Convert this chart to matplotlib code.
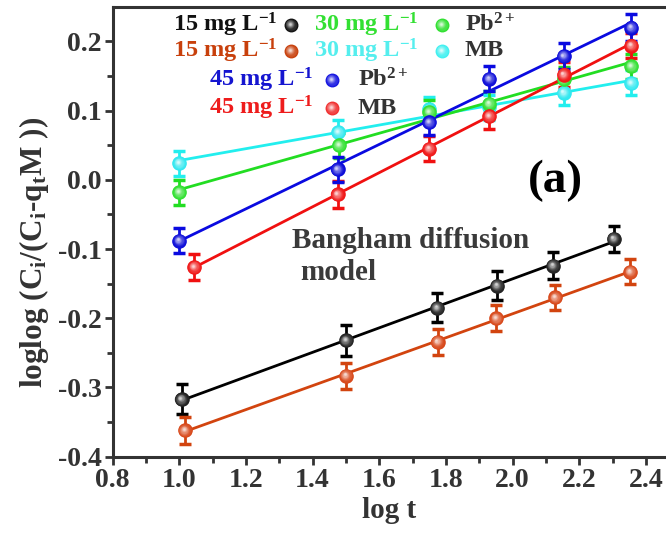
import numpy as np
import matplotlib
matplotlib.use('Agg')
import matplotlib.pyplot as plt
from matplotlib.colors import to_rgb
from matplotlib.transforms import offset_copy

plt.rcParams['font.family'] = 'Liberation Serif'
plt.rcParams['font.weight'] = 'bold'
plt.rcParams['axes.labelweight'] = 'bold'
plt.rcParams['mathtext.fontset'] = 'custom'
plt.rcParams['mathtext.rm'] = 'Liberation Serif:bold'
plt.rcParams['mathtext.it'] = 'Liberation Serif:bold'
plt.rcParams['mathtext.bf'] = 'Liberation Serif:bold'

# data (log t vs loglog(Ci/(Ci-qtM)))
lt_15pb = [1.007, 1.50, 1.773, 1.953, 2.121, 2.303]
y_15pb = [-0.317, -0.232, -0.185, -0.153, -0.124, -0.085]
e_15pb = [0.022, 0.022, 0.021, 0.021, 0.019, 0.019]

lt_15mb = [1.017, 1.50, 1.775, 1.951, 2.128, 2.353]
y_15mb = [-0.362, -0.283, -0.234, -0.200, -0.170, -0.133]
e_15mb = [0.019, 0.019, 0.019, 0.019, 0.018, 0.018]

lt_30pb = [1.0, 1.479, 1.75, 1.93, 2.153, 2.356]
y_30pb = [-0.018, 0.050, 0.098, 0.110, 0.145, 0.164]
e_30pb = [0.018, 0.018, 0.018, 0.018, 0.018, 0.018]

lt_30mb = [1.0, 1.477, 1.75, 1.93, 2.153, 2.356]
y_30mb = [0.024, 0.069, 0.102, 0.105, 0.126, 0.140]
e_30mb = [0.018, 0.018, 0.018, 0.018, 0.018, 0.018]

lt_45pb = [1.0, 1.475, 1.75, 1.93, 2.153, 2.356]
y_45pb = [-0.088, 0.015, 0.083, 0.146, 0.179, 0.220]
e_45pb = [0.018, 0.018, 0.018, 0.018, 0.019, 0.019]

lt_45mb = [1.045, 1.475, 1.75, 1.93, 2.153, 2.356]
y_45mb = [-0.126, -0.021, 0.045, 0.092, 0.152, 0.194]
e_45mb = [0.019, 0.019, 0.018, 0.018, 0.018, 0.018]

series = [
    (lt_15pb, y_15pb, e_15pb, '#000000', '#222222'),
    (lt_15mb, y_15mb, e_15mb, '#d2440f', '#d8481a'),
    (lt_30mb, y_30mb, e_30mb, '#22eeee', '#30e8f0'),
    (lt_30pb, y_30pb, e_30pb, '#22dd22', '#30e030'),
    (lt_45mb, y_45mb, e_45mb, '#f01010', '#f01818'),
    (lt_45pb, y_45pb, e_45pb, '#0a0ae0', '#0c0cd8'),
]

GRAY = '#333333'


def mix(c, w, f):
    a = np.array(to_rgb(c))
    b = np.array(to_rgb(w))
    return tuple(a * (1 - f) + b * f)


def ball(ax, x, y, color, ms=10.5, transform=None, z=5):
    """shaded sphere: solid disc plus a soft highlight shifted up-left"""
    tr = ax.transData if transform is None else transform
    kw = dict(linestyle='none', marker='o', markeredgewidth=0, zorder=z, clip_on=False)
    ax.plot(x, y, markersize=ms, color=color, transform=tr, **kw)
    n = 10
    for k in range(1, n + 1):
        f = k / n
        s = ms * (1.0 - 0.85 * f)
        off = 1.0 * f
        t2 = offset_copy(tr, fig=ax.figure, x=-off, y=off, units='points')
        ax.plot(x, y, markersize=s, color=mix(color, '#ffffff', 0.8 * f ** 1.6),
                transform=t2, **kw)


fig = plt.figure(figsize=(6.66, 5.35), dpi=100)
ax = fig.add_axes([0.169, 0.1464, 0.831, 0.8409])

for lt, yy, ee, lc, mc in series:
    k, b = np.polyfit(lt, yy, 1)
    xf = np.array([lt[0], lt[-1]])
    ax.plot(xf, k * xf + b, color=lc, lw=2.0, zorder=2)
    ax.errorbar(lt, yy, yerr=ee, fmt='none', ecolor=lc, elinewidth=2,
                capsize=4.5, capthick=2.5, zorder=3)
    ball(ax, lt, yy, mc)

ax.set_xlim(0.8, 2.46)
ax.set_ylim(-0.4, 0.25)
ax.set_xticks(np.arange(0.8, 2.41, 0.2))
ax.set_yticks(np.arange(-0.4, 0.21, 0.1))
ax.set_xticks(np.arange(0.8, 2.46, 0.1), minor=True)
ax.set_yticks(np.arange(-0.4, 0.25, 0.05), minor=True)
ax.set_xticklabels(['%.1f' % v for v in np.arange(0.8, 2.41, 0.2)])
ax.set_yticklabels(['%.1f' % v if abs(v) > 1e-9 else '0.0' for v in np.arange(-0.4, 0.21, 0.1)])
ax.tick_params(which='major', direction='out', length=6, width=2, color=GRAY,
               labelsize=20, labelcolor=GRAY, pad=2)
ax.tick_params(which='minor', direction='out', length=4, width=2, color=GRAY)
ax.tick_params(top=False, right=False)
for s in ['left', 'bottom', 'top']:
    ax.spines[s].set_linewidth(2.2)
    ax.spines[s].set_color(GRAY)
ax.spines['right'].set_visible(False)

ax.set_xlabel('log t', fontsize=21, color=GRAY, labelpad=3, fontweight='bold')
ax.set_ylabel(r'loglog (C$_\mathrm{i}$/(C$_\mathrm{i}$-q$_\mathrm{t}$M ))',
              fontsize=22.5, color=GRAY, fontweight='bold')
ax.yaxis.set_label_coords(-0.112, 0.455)

# annotations
fig.text(555 / 666, 1 - 181 / 535, '(a)', fontsize=34, color='black',
         ha='center', va='center')
fig.text(292 / 666, 1 - 240 / 535, 'Bangham diffusion', fontsize=21, color='#3a3a3a',
         ha='left', va='center')
fig.text(300 / 666, 1 - 272 / 535, 'model', fontsize=21, color='#3a3a3a',
         ha='left', va='center')

# legend built by hand
lab = r'%d mg L$^{\mathrm{-1}}$'
ft = fig.transFigure
leg_rows = [
    (277, 25, 15, '#111111', 291, '#111111'),
    (277, 51, 15, '#c8400c', 291, '#c8400c'),
    (313, 80, 45, '#1515d0', 332, '#1515e0'),
    (313, 108, 45, '#ee1c1c', 332, '#f03030'),
]
for xr, yc, conc, tc, xb, bc in leg_rows:
    fig.text(xr / 666, 1 - yc / 535, lab % conc, fontsize=17.5, color=tc,
             ha='right', va='center')
    ball(ax, [xb / 666], [1 - yc / 535], bc, ms=10, transform=ft, z=10)
fig.text(418 / 666, 1 - 25 / 535, lab % 30, fontsize=17.5, color='#33e033',
         ha='right', va='center')
fig.text(418 / 666, 1 - 51 / 535, lab % 30, fontsize=17.5, color='#55eeee',
         ha='right', va='center')
ball(ax, [442 / 666], [1 - 25 / 535], '#30e030', ms=10, transform=ft, z=10)
ball(ax, [442 / 666], [1 - 51 / 535], '#40f0f0', ms=10, transform=ft, z=10)
for xs, yc, s in [(465, 25, r'Pb$^{\mathrm{2+}}$'), (465, 51, 'MB'),
                  (358, 80, r'Pb$^{\mathrm{2+}}$'), (358, 108, 'MB')]:
    fig.text(xs / 666, 1 - yc / 535, s, fontsize=17.5, color=GRAY,
             ha='left', va='center')

fig.savefig('out.png', dpi=100)
